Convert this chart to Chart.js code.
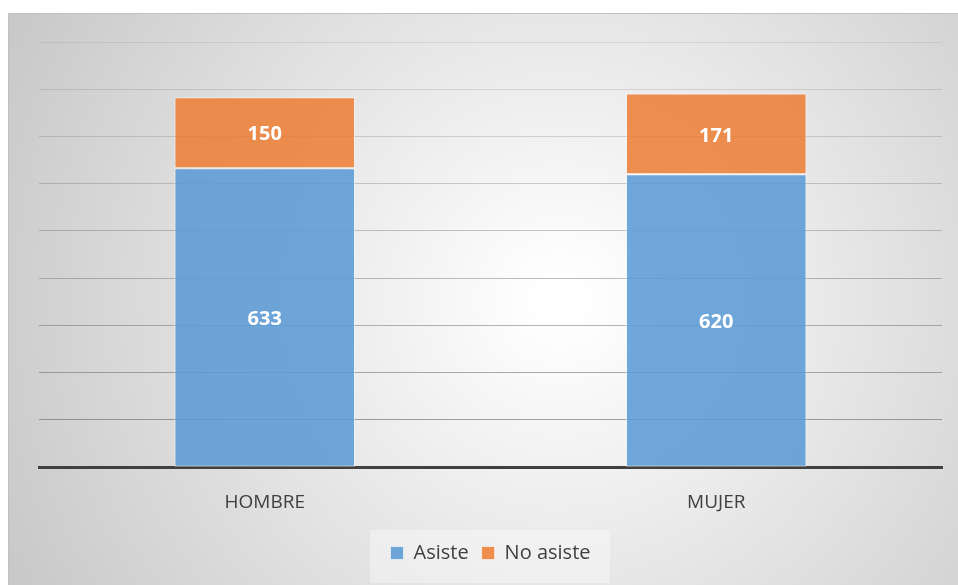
<!DOCTYPE html>
<html>
<head>
<meta charset="utf-8">
<script src="https://cdn.jsdelivr.net/npm/chart.js@4/dist/chart.umd.min.js"></script>
<style>
    html, body { margin: 0; padding: 0; background: #ffffff; }
    #wrap { width: 958px; height: 585px; }
</style>
</head>
<body>
<div id="wrap"><canvas id="chart" width="958" height="585"></canvas></div>
<script>
const categories = ["HOMBRE", "MUJER"];
const asiste = [633, 620];
const noAsiste = [150, 171];
const seriesNames = ["Asiste", "No asiste"];

// caja con degradado y fondo de la leyenda
const boxPlugin = {
    id: "box",
    beforeDraw(chart) {
        const c = chart.ctx;
        c.save();
        c.fillStyle = "#ffffff";
        c.fillRect(0, 0, chart.width, chart.height);
        const g = c.createRadialGradient(560, 300, 20, 560, 300, 640);
        g.addColorStop(0, "#ffffff");
        g.addColorStop(1, "#c6c6c6");
        c.fillStyle = g;
        c.fillRect(8, 13, chart.width - 8, chart.height - 13);
        c.strokeStyle = "#c0c0c0";
        c.lineWidth = 1;
        c.strokeRect(8.5, 13.5, chart.width, chart.height);
        c.fillStyle = "rgba(255,255,255,0.35)";
        c.fillRect(370, 530, 240, 53);
        c.restore();
    }
};

const labelPlugin = {
    id: "valueLabels",
    afterDatasetsDraw(chart) {
        const c = chart.ctx;
        c.save();
        c.font = "bold 20px 'Open Sans'";
        c.fillStyle = "#ffffff";
        c.textAlign = "center";
        c.textBaseline = "middle";
        chart.data.datasets.forEach((ds, i) => {
            chart.getDatasetMeta(i).data.forEach((bar, j) => {
                c.fillText(ds.data[j], bar.x, (bar.y + bar.base) / 2 + 2);
            });
        });
        c.restore();
    }
};

new Chart(document.getElementById("chart"), {
    type: "bar",
    data: {
        labels: categories,
        datasets: [
            {
                label: seriesNames[0],
                data: asiste,
                backgroundColor: "rgba(91,155,213,0.88)",
                borderColor: "rgba(255,255,255,0.6)",
                borderWidth: 1,
                borderSkipped: false
            },
            {
                label: seriesNames[1],
                data: noAsiste,
                backgroundColor: "rgba(237,125,49,0.85)",
                borderColor: "rgba(255,255,255,0.6)",
                borderWidth: 1,
                borderSkipped: false
            }
        ]
    },
    options: {
        responsive: false,
        animation: false,
        layout: { padding: { left: 39, right: 16, top: 42, bottom: 12 } },
        datasets: { bar: { barPercentage: 0.4, categoryPercentage: 1.0 } },
        plugins: {
            legend: {
                position: "bottom",
                labels: {
                    color: "#404040",
                    font: { family: "'Open Sans'", size: 20 },
                    boxWidth: 13,
                    boxHeight: 13,
                    padding: 13
                }
            },
            tooltip: { enabled: false }
        },
        scales: {
            x: {
                stacked: true,
                grid: { display: false },
                border: { display: true, color: "#404040", width: 3 },
                ticks: {
                    color: "#404040",
                    font: { family: "'Open Sans'", size: 19 },
                    padding: 16
                }
            },
            y: {
                stacked: true,
                min: 0,
                max: 900,
                ticks: { display: false, stepSize: 100 },
                border: { display: false },
                grid: {
                    drawTicks: false,
                    color: ctx => ctx.tick && ctx.tick.value === 0
                        ? "rgba(0,0,0,0)"
                        : "rgba(110,110,110," + (0.15 + 0.55 * (1 - ctx.tick.value / 900)) + ")"
                }
            }
        }
    },
    plugins: [boxPlugin, labelPlugin]
});
</script>
</body>
</html>
